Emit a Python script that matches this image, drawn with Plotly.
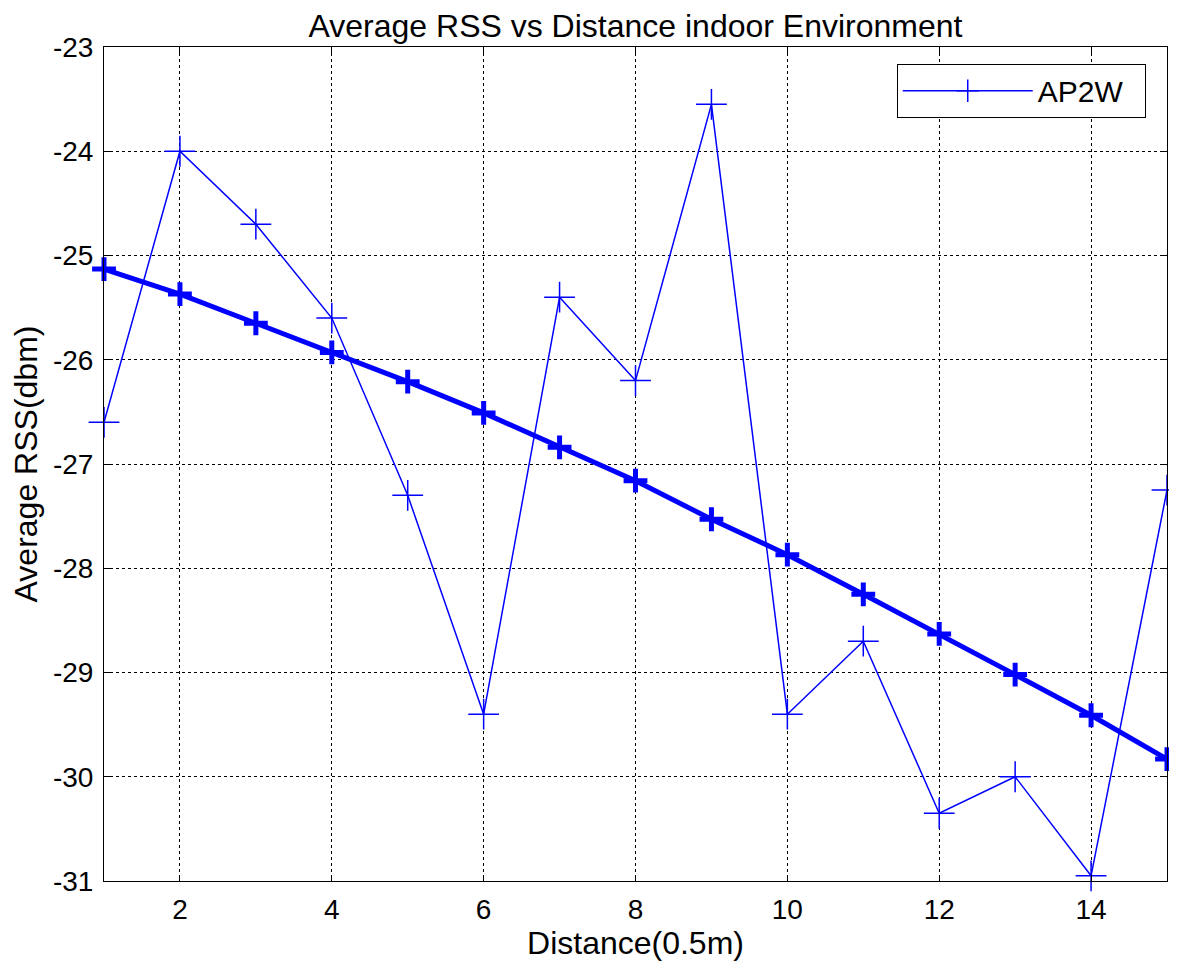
import plotly.graph_objects as go

# Distance index (0.5 m steps)
distance = list(range(1, 16))

# measured average RSS (dBm) for AP2W
ap2w_rss = [-26.6, -24.0, -24.7, -25.6, -27.3, -29.4, -25.4, -26.2,
            -23.55, -29.4, -28.7, -30.35, -30.0, -30.95, -27.25]

# fitted path-loss curve
fit_rss = [-25.13, -25.37, -25.65, -25.93, -26.21, -26.51, -26.84, -27.16,
           -27.53, -27.87, -28.25, -28.63, -29.02, -29.41, -29.83]

x_ticks = [2, 4, 6, 8, 10, 12, 14]
y_ticks = [-31, -30, -29, -28, -27, -26, -25, -24, -23]

font_family = "Liberation Sans, Arial, sans-serif"

fig = go.Figure()

fig.add_trace(go.Scatter(
    x=distance, y=ap2w_rss, mode="lines+markers", name="AP2W\u00a0\u00a0",
    line=dict(color="#0000ff", width=1.5),
    marker=dict(symbol="cross-thin", size=22, line=dict(color="#0000ff", width=1.5)),
    cliponaxis=False,
))

fig.add_trace(go.Scatter(
    x=distance, y=fit_rss, mode="lines+markers", name="fit", showlegend=False,
    line=dict(color="#0000ff", width=5),
    marker=dict(symbol="cross-thin", size=17, line=dict(color="#0000ff", width=5)),
    cliponaxis=False,
))

axis_common = dict(
    showline=True, linecolor="black", linewidth=1, mirror="ticks",
    ticks="inside", ticklen=6, tickcolor="black",
    showgrid=True, gridcolor="black", griddash="dot", gridwidth=1,
    zeroline=False, automargin=False,
    tickfont=dict(family=font_family, size=28, color="black"),
    title_font=dict(family=font_family, size=32, color="black"),
)

# hyphen minus signs like the original
fig.update_xaxes(range=[1, 15], tickvals=x_ticks, ticktext=[str(v) for v in x_ticks],
                 ticklabelstandoff=3, title_text="Distance(0.5m)",
                 title_standoff=7, **axis_common)
fig.update_yaxes(range=[-31, -23], tickvals=y_ticks, ticktext=[str(v) for v in y_ticks],
                 ticklabelstandoff=4, title_text="Average RSS(dbm)",
                 title_standoff=26, **axis_common)

# the page body adds an 8px offset, so the figure is sized to compensate
fig.update_layout(
    width=1169, height=960,
    margin=dict(l=96, r=10, t=39, b=87),
    paper_bgcolor="white", plot_bgcolor="white",
    title=dict(text="Average RSS vs Distance indoor Environment", x=0.5, xanchor="center",
               xref="paper", y=0.993, yref="container", yanchor="top", pad=dict(t=0),
               font=dict(family=font_family, size=32, color="black")),
    legend=dict(x=0.98, y=0.98, xanchor="right", yanchor="top",
                bordercolor="black", borderwidth=1, bgcolor="white",
                font=dict(family=font_family, size=30, color="black"),
                itemwidth=130),
    showlegend=True,
)

fig.write_html("out.html")
